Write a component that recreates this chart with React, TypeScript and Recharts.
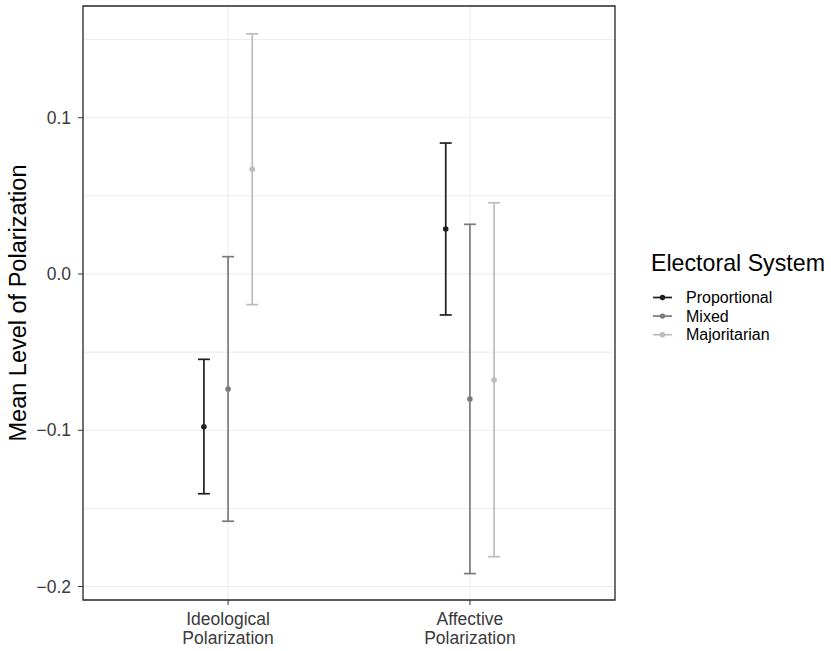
import React from "react";
import {
  ComposedChart,
  Scatter,
  ErrorBar,
  XAxis,
  YAxis,
  CartesianGrid,
  ReferenceArea,
  Legend,
  Label,
} from "recharts";

// ---- data ----
const categories = ["Ideological\nPolarization", "Affective\nPolarization"];
const seriesNames = ["Proportional", "Mixed", "Majoritarian"];
const seriesColors = ["#1e1e1e", "#7b7b7b", "#bcbcbc"];

const proportionalMean = [-0.0977, 0.0288];
const proportionalLower = [-0.1406, -0.0262];
const proportionalUpper = [-0.0546, 0.0838];

const mixedMean = [-0.0736, -0.08];
const mixedLower = [-0.1582, -0.1917];
const mixedUpper = [0.0111, 0.0318];

const majoritarianMean = [0.067, -0.0678];
const majoritarianLower = [-0.0196, -0.1809];
const majoritarianUpper = [0.1537, 0.0456];

const yTicks = [-0.2, -0.1, 0, 0.1];
const yMinorGrid = [-0.15, -0.05, 0.05, 0.15];

// ---- layout helpers ----
const FONT = '"Liberation Sans", Arial, Helvetica, sans-serif';
const TICK_COLOR = "#3a3a3a";
const dodgeWidth = 0.1;
const X_DOMAIN: [number, number] = [0.4, 2.6];
const Y_DOMAIN: [number, number] = [-0.2086, 0.1715];

function buildSeries(mean: number[], lower: number[], upper: number[], idx: number) {
  return mean.map((m, i) => ({
    x: i + 1 + (idx - 1) * dodgeWidth,
    y: m,
    err: [m - lower[i], upper[i] - m],
  }));
}

const allSeries = [
  buildSeries(proportionalMean, proportionalLower, proportionalUpper, 0),
  buildSeries(mixedMean, mixedLower, mixedUpper, 1),
  buildSeries(majoritarianMean, majoritarianLower, majoritarianUpper, 2),
];

const fmtY = (v: number) => {
  const s = Math.abs(v).toFixed(1);
  return v < -1e-9 ? "\u2212" + s : s;
};

const XTick = (props: any) => {
  const { x, y, payload } = props;
  const idx = Math.round(payload.value) - 1;
  const lines = (categories[idx] || "").split("\n");
  return (
    <text x={x} y={y} textAnchor="middle" fill={TICK_COLOR} fontSize={17.5} fontFamily={FONT}>
      {lines.map((l, i) => (
        <tspan key={i} x={x} dy={i === 0 ? 17.5 : 19.5}>
          {l}
        </tspan>
      ))}
    </text>
  );
};

const YTitle = (props: any) => {
  const vb = props.viewBox || {};
  const cx = (vb.x || 0) + 26;
  const cy = (vb.y || 0) + (vb.height || 0) / 2;
  return (
    <text
      x={cx}
      y={cy}
      transform={`rotate(-90, ${cx}, ${cy})`}
      textAnchor="middle"
      fill="#000"
      fontSize={23.5}
      fontFamily={FONT}
    >
      Mean Level of Polarization
    </text>
  );
};

const LegendContent = () => (
  <svg width={186} height={110} style={{ display: "block", overflow: "visible" }}>
    <text x={6} y={26} fontSize={23.2} fill="#000" fontFamily={FONT}>
      Electoral System
    </text>
    {seriesNames.map((n, i) => {
      const cy = 52.5 + i * 18.6;
      return (
        <g key={n}>
          <line x1={8} x2={27} y1={cy} y2={cy} stroke={seriesColors[i]} strokeWidth={1.7} />
          <circle cx={17.5} cy={cy} r={2.7} fill={seriesColors[i]} />
          <text x={41} y={cy + 5.6} fontSize={16} fill="#000" fontFamily={FONT}>
            {n}
          </text>
        </g>
      );
    })}
  </svg>
);

export default function App() {
  return (
    <div style={{ position: "absolute", left: 0, top: 0, width: 831, height: 651, background: "#fff" }}>
      <ComposedChart
        width={831}
        height={651}
        margin={{ top: 6, right: 216, bottom: 0, left: 0 }}
        style={{ fontFamily: FONT }}
      >
        <CartesianGrid
          stroke="#ebebeb"
          strokeWidth={1}
          horizontalValues={[...yTicks, ...yMinorGrid]}
          verticalValues={[1, 2]}
        />
        <XAxis
          type="number"
          dataKey="x"
          domain={X_DOMAIN}
          ticks={[1, 2]}
          allowDataOverflow
          axisLine={false}
          tickLine={{ stroke: "#333333", strokeWidth: 1 }}
          tickSize={5}
          tick={<XTick />}
          height={51}
          interval={0}
        />
        <YAxis
          type="number"
          dataKey="y"
          domain={Y_DOMAIN}
          ticks={yTicks}
          allowDataOverflow
          axisLine={false}
          tickLine={{ stroke: "#333333", strokeWidth: 1 }}
          tickSize={5}
          tickMargin={7}
          tickFormatter={fmtY}
          tick={{ fill: TICK_COLOR, fontSize: 17.5, fontFamily: FONT }}
          width={83}
          interval={0}
        >
          <Label content={<YTitle />} />
        </YAxis>
        {allSeries.map((data, i) => (
          <Scatter
            key={seriesNames[i]}
            name={seriesNames[i]}
            data={data}
            fill={seriesColors[i]}
            isAnimationActive={false}
            shape={(p: any) => <circle cx={p.cx} cy={p.cy} r={2.8} fill={seriesColors[i]} />}
          >
            <ErrorBar
              dataKey="err"
              direction="y"
              width={6}
              stroke={seriesColors[i]}
              strokeWidth={1.7}
              isAnimationActive={false}
            />
          </Scatter>
        ))}
        <ReferenceArea
          x1={X_DOMAIN[0]}
          x2={X_DOMAIN[1]}
          y1={Y_DOMAIN[0]}
          y2={Y_DOMAIN[1]}
          fill="none"
          stroke="#262626"
          strokeWidth={1.3}
          ifOverflow="visible"
        />
        <Legend
          layout="horizontal"
          align="center"
          verticalAlign="middle"
          content={<LegendContent />}
          wrapperStyle={{ position: "absolute", left: 645, top: 245, width: 186, height: 110 }}
        />
      </ComposedChart>
    </div>
  );
}
